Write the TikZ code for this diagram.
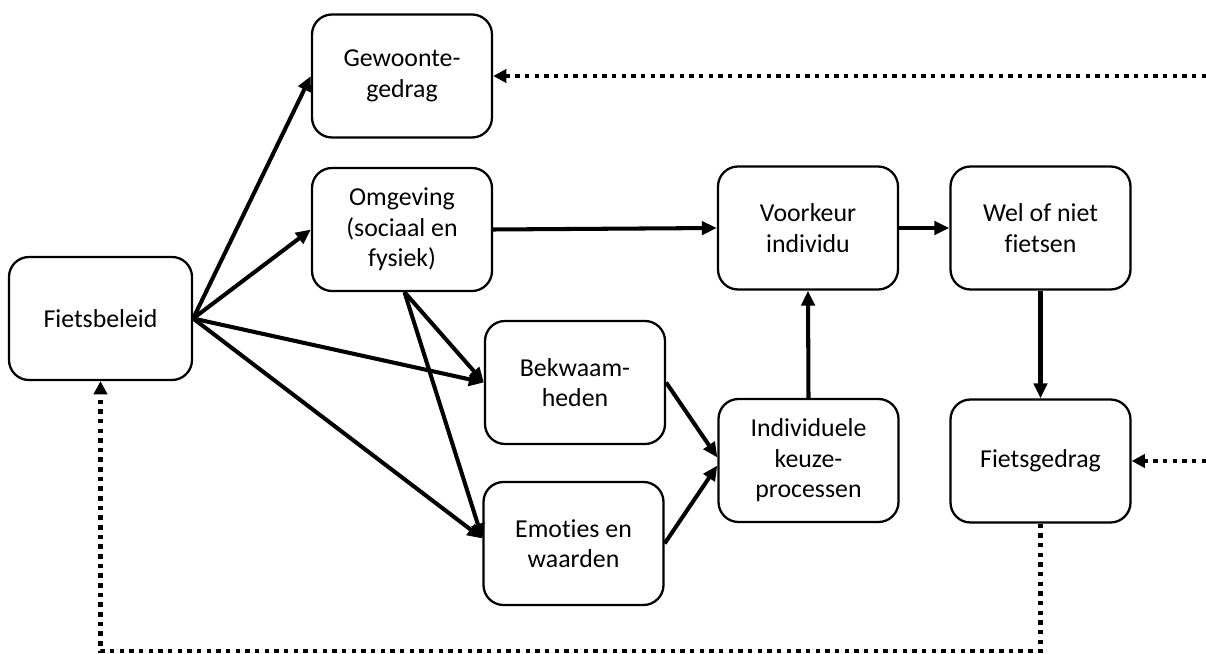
\documentclass[tikz,border=0pt]{standalone}
\usepackage{fontspec}
\setmainfont[Ligatures=NoCommon]{Carlito}
\usetikzlibrary{arrows.meta, positioning, calc}

\begin{document}
\begin{tikzpicture}[thick,
        box/.style={rectangle, rounded corners=0.4cm, draw, line width=1.3pt, minimum width=3.6cm, minimum height=2.46cm, align=center, font=\fontsize{14.7}{17.3}\selectfont},
        flow/.style={-{Triangle[length=8.5pt, width=7.5pt]}, line width=2.3pt},
        feedback/.style={-{Triangle[length=7.5pt, width=7.5pt]}, line width=2.5pt, dash pattern=on 2.5pt off 3pt}]
        \useasboundingbox (0,0) rectangle (24.12,-13.08);

        % Nodes
        \node (Beleid) [box, minimum width=3.66cm] at (2.01,-6.37) {Fietsbeleid};
        \node (Gewoonte) [box] at (8.04,-1.52) {Gewoonte-\\gedrag};
        \node (Omgeving) [box] at (8.04,-4.59) {Omgeving\\(sociaal en\\fysiek)};
        \node (Bekwaam) [box] at (11.5,-7.65) {Bekwaam-\\heden};
        \node (Emoties) [box] at (11.47,-10.87) {Emoties en\\waarden};
        \node (Keuze) [box] at (16.17,-9.21) {Individuele\\keuze-\\processen};
        \node (Voorkeur) [box] at (16.16,-4.56) {Voorkeur\\individu};
        \node (Wel) [box] at (20.81,-4.56) {Wel of niet\\fietsen};
        \node (Gedrag) [box] at (20.81,-9.22) {Fietsgedrag};

        % Loose ends of the feedback lines
        \coordinate (InTop) at (24.12,-1.52);
        \coordinate (InRight) at (24.12,-9.22);
        \coordinate (Bottom) at (0,-13.02);

        % Arrows
        \draw[flow] (Beleid.east) -- (Gewoonte.west);
        \draw[flow] (Beleid.east) -- (Omgeving.west);
        \draw[flow] (Beleid.east) -- (Bekwaam.west);
        \draw[flow] (Beleid.east) -- ([yshift=0.1cm]Emoties.west);
        \draw[flow] ([xshift=0.05cm]Omgeving.south) -- (Bekwaam.west);
        \draw[flow] ([xshift=0.05cm]Omgeving.south) -- ([yshift=0.1cm]Emoties.west);
        \draw[flow] (Omgeving.east) -- (Voorkeur.west);
        \draw[flow] (Voorkeur.east) -- (Wel.west);
        \draw[flow] (Keuze.north) -- (Voorkeur.south);
        \draw[flow] (Bekwaam.east) -- ([yshift=0.06cm]Keuze.west);
        \draw[flow] (Emoties.east) -- ([yshift=-0.1cm]Keuze.west);
        \draw[flow] (Wel.south) -- (Gedrag.north);

        % Feedback (dotted)
        \draw[feedback] (InTop) -- (Gewoonte.east);
        \draw[feedback] (InRight) -- (Gedrag.east);
        \draw[feedback] (Gedrag.south) -- (Gedrag.south |- Bottom) -| (Beleid.south);
\end{tikzpicture}
\end{document}
